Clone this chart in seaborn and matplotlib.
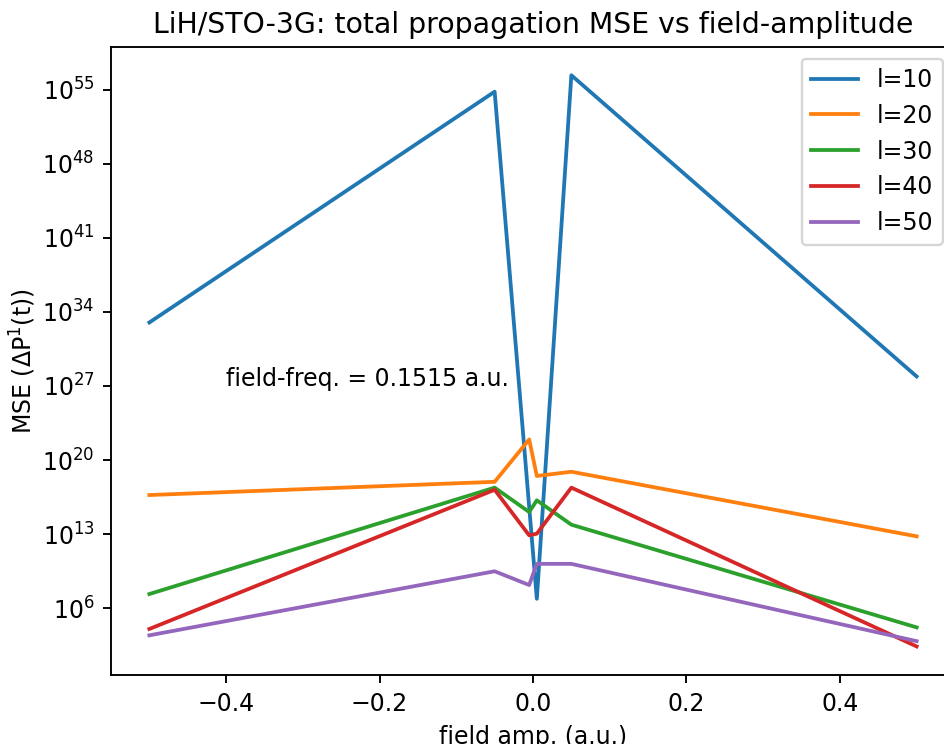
import numpy as np
import pandas as pd
import matplotlib
matplotlib.use("Agg")
import matplotlib.pyplot as plt
import matplotlib.ticker as mticker
import seaborn as sns

# Field amplitudes (a.u.)
field_amp = [-0.5, -0.05, -0.005, 0.005, 0.05, 0.5]

# log10 of total propagation MSE for each l
log_mse_l10 = [33.0, 54.8, 15.6, 6.9, 56.35, 27.9]
log_mse_l20 = [16.7, 17.95, 21.95, 18.5, 18.9, 12.8]
log_mse_l30 = [7.35, 17.4, 15.1, 16.2, 13.9, 4.2]
log_mse_l40 = [4.05, 17.2, 12.9, 13.05, 17.4, 2.4]
log_mse_l50 = [3.45, 9.5, 8.2, 10.2, 10.2, 2.9]

series_labels = ["l=10", "l=20", "l=30", "l=40", "l=50"]
series_values = [log_mse_l10, log_mse_l20, log_mse_l30, log_mse_l40, log_mse_l50]

rows = []
for lab, vals in zip(series_labels, series_values):
    for x, v in zip(field_amp, vals):
        rows.append({"field amp. (a.u.)": x, "MSE": 10.0 ** v, "series": lab})
df = pd.DataFrame(rows)

DPI = 170
fig = plt.figure(figsize=(944 / DPI, 744 / DPI), dpi=DPI)
ax = fig.add_axes([111 / 944, 1 - 675 / 744, (955 - 111) / 944, (675 - 46.7) / 744])

sns.lineplot(data=df, x="field amp. (a.u.)", y="MSE", hue="series",
             palette="tab10", hue_order=series_labels, ax=ax, linewidth=1.6)

ax.set_yscale("log")
ax.yaxis.set_minor_locator(mticker.NullLocator())
ax.set_xlabel("field amp. (a.u.)")
ax.set_ylabel("MSE (ΔP$^1$(t))")
ax.yaxis.set_label_coords(-0.087, 0.5)
ax.set_title("LiH/STO-3G: total propagation MSE vs field-amplitude")
ax.text(-0.4, 1e27, "field-freq. = 0.1515 a.u.")
ax.legend(loc="upper right", title=None)

fig.savefig("out.png", dpi=DPI)
